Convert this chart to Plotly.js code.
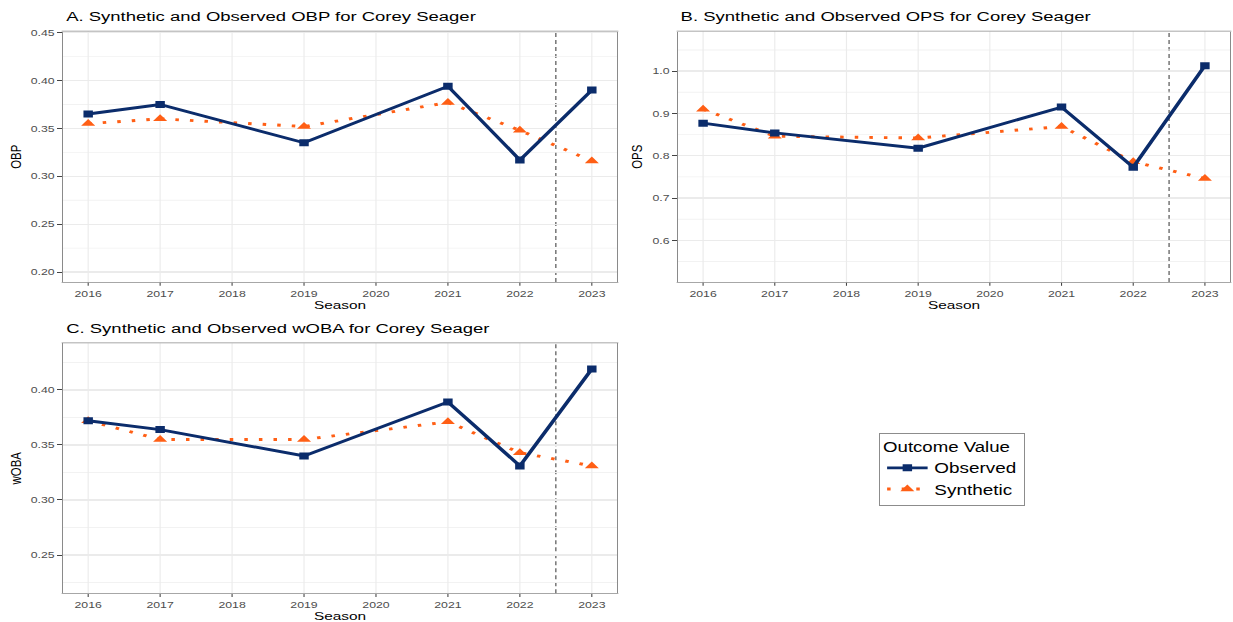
<!DOCTYPE html>
<html>
<head>
<meta charset="utf-8">
<script src="https://cdn.plot.ly/plotly-3.0.1.min.js"></script>
<style>
  html, body { margin: 0; padding: 0; background: #ffffff; overflow: hidden; }
  #wrap { width: 1233px; height: 622px; overflow: hidden; }
  #plot { width: 913px; height: 622px; transform: scaleX(1.3505); transform-origin: 0 0; }
</style>
</head>
<body>
<div id="wrap"><div id="plot"></div></div>
<script>
// ---- data ----
const seasons = [2016, 2017, 2019, 2021, 2022, 2023];
const obpObserved  = [0.365, 0.375, 0.335, 0.394, 0.317, 0.390];
const obpSynthetic = [0.355, 0.360, 0.352, 0.377, 0.348, 0.316];
const opsObserved  = [0.877, 0.854, 0.818, 0.915, 0.773, 1.013];
const opsSynthetic = [0.910, 0.846, 0.842, 0.869, 0.786, 0.746];
const wobaObserved  = [0.372, 0.364, 0.340, 0.389, 0.331, 0.419];
const wobaSynthetic = [0.372, 0.355, 0.355, 0.371, 0.343, 0.331];
const treatmentCut = 2022.5;
const seriesNames = ['Observed', 'Synthetic'];
const panelTitles = [
  'A. Synthetic and Observed OBP for Corey Seager',
  'B. Synthetic and Observed OPS for Corey Seager',
  'C. Synthetic and Observed wOBA for Corey Seager'
];
const yTitles = ['OBP', 'OPS', 'wOBA'];
const xTitle = 'Season';
const legendTitle = 'Outcome Value';

// ---- styles ----
const FONT = 'Liberation Sans, Arial, Helvetica, sans-serif';
const NAVY = '#0B2C6B';
const ORANGE = '#FF5F15';

function obsTrace(y, xa, ya, show) {
  return {
    x: seasons, y: y, xaxis: xa, yaxis: ya, type: 'scatter', mode: 'lines+markers',
    name: seriesNames[0], legendgroup: 'obs', showlegend: show, legendrank: 1,
    line: { color: NAVY, width: 2.9 },
    marker: { symbol: 'square', size: 7, color: NAVY }
  };
}
function synTrace(y, xa, ya, show) {
  return {
    x: seasons, y: y, xaxis: xa, yaxis: ya, type: 'scatter', mode: 'lines+markers',
    name: seriesNames[1], legendgroup: 'syn', showlegend: show, legendrank: 2,
    line: { color: ORANGE, width: 2.9, dash: '2.6px,8.2px' },
    marker: { symbol: 'triangle-up', size: 9, color: ORANGE }
  };
}

const data = [
  synTrace(obpSynthetic, 'x', 'y', true),
  obsTrace(obpObserved, 'x', 'y', true),
  synTrace(opsSynthetic, 'x2', 'y2', false),
  obsTrace(opsObserved, 'x2', 'y2', false),
  synTrace(wobaSynthetic, 'x3', 'y3', false),
  obsTrace(wobaObserved, 'x3', 'y3', false)
];

function xAxis(domain, anchor) {
  return {
    domain: domain, anchor: anchor, range: [2015.65, 2023.35],
    tickmode: 'linear', tick0: 2016, dtick: 1,
    showgrid: true, gridcolor: '#EBEBEB', gridwidth: 0.85,
    zeroline: false, showline: true, mirror: true, linecolor: '#8A8A8A', linewidth: 0.8,
    ticks: 'outside', ticklen: 3, tickwidth: 0.8, tickcolor: '#444444',
    tickfont: { family: FONT, size: 9.1, color: '#4D4D4D' },
    title: { text: xTitle, font: { family: FONT, size: 11.4, color: '#000000' }, standoff: 1 }
  };
}
function yAxis(domain, anchor, range, tick0, dtick, fmt, title) {
  return {
    domain: domain, anchor: anchor, range: range,
    tickmode: 'linear', tick0: tick0, dtick: dtick, tickformat: fmt,
    showgrid: true, gridcolor: '#EBEBEB', gridwidth: 1.3,
    minor: { dtick: dtick / 2, tick0: tick0, showgrid: true, gridcolor: '#F2F2F2', gridwidth: 0.9, ticks: '' },
    zeroline: false, showline: true, mirror: true, linecolor: '#8A8A8A', linewidth: 1,
    ticks: 'outside', ticklen: 3.4, tickwidth: 1, tickcolor: '#444444',
    tickfont: { family: FONT, size: 9.1, color: '#4D4D4D' },
    title: { text: title, font: { family: FONT, size: 11.4, color: '#000000' }, standoff: 4 }
  };
}

const dxA = [63 / 1233, 617 / 1233];
const dxB = [678 / 1233, 1230 / 1233];
const dyTop = [1 - 282 / 622, 1 - 31.5 / 622];
const dyBot = [1 - 593.3 / 622, 1 - 343.3 / 622];

function vline(xref, yref) {
  return {
    type: 'line', xref: xref, yref: yref + ' domain', x0: treatmentCut, x1: treatmentCut, y0: 0, y1: 1,
    line: { color: '#555555', width: 0.9, dash: '4px,3px' }, layer: 'below'
  };
}
function titleAnn(text, xPx, yPx) {
  return {
    text: text, xref: 'paper', yref: 'paper', x: xPx / 1233, y: 1 - yPx / 622,
    xanchor: 'left', yanchor: 'middle', showarrow: false,
    font: { family: FONT, size: 13.7, color: '#000000' }
  };
}

const layout = {
  width: 913, height: 622,
  margin: { l: 0, r: 0, t: 0, b: 0 },
  paper_bgcolor: '#ffffff', plot_bgcolor: '#ffffff',
  font: { family: FONT },
  xaxis: xAxis(dxA, 'y'),
  yaxis: yAxis(dyTop, 'x', [0.1896, 0.4512], 0.2, 0.05, '.2f', yTitles[0]),
  xaxis2: xAxis(dxB, 'y2'),
  yaxis2: yAxis(dyTop, 'x2', [0.5016, 1.0937], 0.6, 0.1, '.1f', yTitles[1]),
  xaxis3: xAxis(dxA, 'y3'),
  yaxis3: yAxis(dyBot, 'x3', [0.2152, 0.4424], 0.25, 0.05, '.2f', yTitles[2]),
  shapes: [vline('x', 'y'), vline('x2', 'y2'), vline('x3', 'y3')],
  annotations: [
    titleAnn(panelTitles[0], 63, 16.5),
    titleAnn(panelTitles[1], 678, 16.5),
    titleAnn(panelTitles[2], 63, 328.5)
  ],
  showlegend: true,
  legend: {
    x: 879 / 1233, y: 1 - 433.3 / 622, xanchor: 'left', yanchor: 'top',
    bordercolor: '#8C8C8C', borderwidth: 1, bgcolor: '#ffffff',
    title: { text: legendTitle, font: { family: FONT, size: 13.8, color: '#000000' } },
    font: { family: FONT, size: 14, color: '#000000' },
    traceorder: 'normal', itemwidth: 30, tracegroupgap: 0
  }
};

Plotly.newPlot('plot', data, layout, { staticPlot: true, displayModeBar: false });
</script>
</body>
</html>
